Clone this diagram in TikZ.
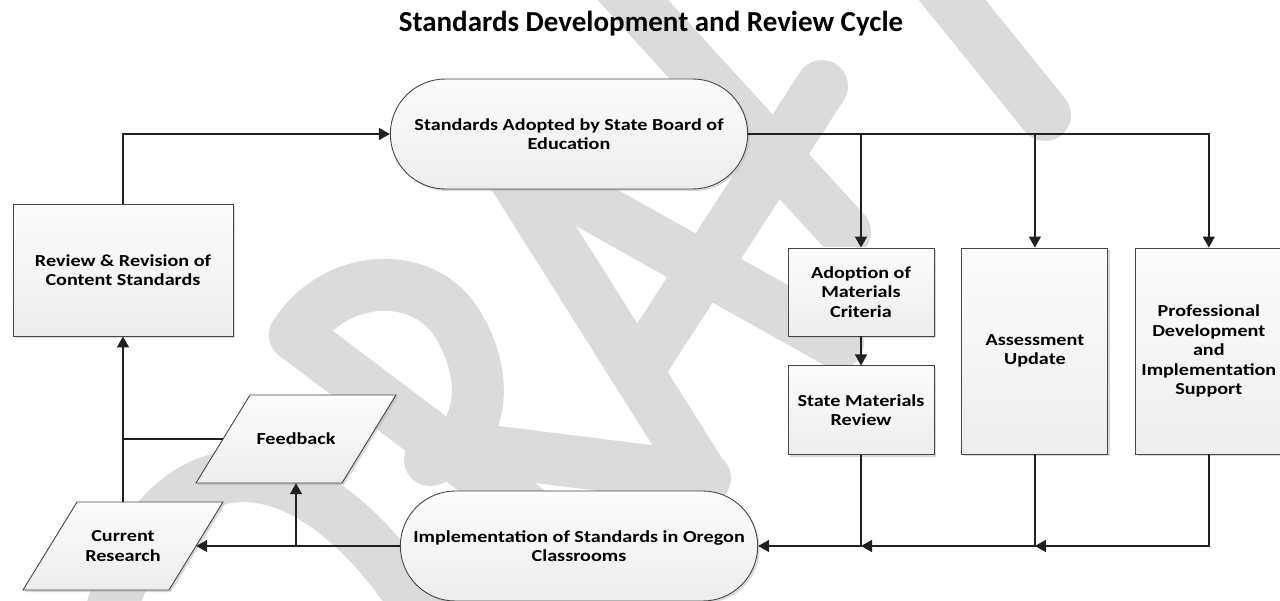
\documentclass[tikz,border=0pt]{standalone}
\usepackage{fontspec}
\setmainfont{Carlito}
\newfontfamily\flowfont{Carlito}[FakeStretch=1.2]
\usetikzlibrary{positioning}
\usetikzlibrary{shapes.misc,shadows}
\usetikzlibrary{arrows.meta}

\begin{document}
\begin{tikzpicture}[x=1pt,y=-1pt,
    every node/.style={font=\flowfont\bfseries\fontsize{16.8}{19.5}\selectfont,align=center},
    shade box/.style={draw=gray!55!black,line width=.9pt,top color=gray!2,bottom color=gray!14,
      drop shadow={shadow xshift=2pt,shadow yshift=-2pt,fill=black!30,opacity=.5}},
    procbox/.style={shade box,rectangle,minimum width=146pt},
    termbox/.style={shade box,rounded rectangle,minimum width=364pt,minimum height=110pt},
    databox/.style={rectangle,minimum width=146pt,minimum height=88pt},
    wmstroke/.style={draw=black!14,line width=52pt,line cap=round,line join=round},
    flow/.style={draw=gray!25!black,line width=1.5pt,-{Triangle[length=11pt,width=12pt]}},
    linkline/.style={draw=gray!25!black,line width=1.5pt}]
				\path[use as bounding box] (0,0) rectangle (1280,601);
				% watermark
				\begin{scope}
					\clip (0,0) rectangle (1280,601);
					\draw[wmstroke] (100,660) .. controls (140,430) and (310,400) .. (450,660);
					\draw[wmstroke] (295,335) -- (660,610);
					\draw[wmstroke] (295,335) .. controls (335,272) and (425,268) .. (458,325) .. controls (492,380) and (482,445) .. (430,460);
					\draw[wmstroke] (465,448) -- (705,478);
					\draw[wmstroke] (513,175) -- (700,472);
					\draw[wmstroke] (538,175) -- (838,343);
					\draw[wmstroke] (638,370) -- (822,86);
					\draw[wmstroke] (610,-25) -- (845,232);
					\draw[wmstroke] (932,-25) -- (1045,115);
				\end{scope}
				\node[anchor=base,font=\bfseries\fontsize{29}{34}\selectfont] (title) at (651,32) {Standards Development and Review Cycle};

				\node[termbox] (adopted) at (569,134) {Standards Adopted by State Board of\\Education};
				\node[procbox,minimum width=220pt,minimum height=132pt] (revision) at (123,270) {Review \& Revision of\\Content Standards};
				\node[procbox,minimum height=88pt] (criteria) at (861,292) {Adoption of\\Materials\\Criteria};
				\node[procbox,minimum height=89pt,below=29pt of criteria] (matreview) {State Materials\\Review};
				\node[procbox,minimum height=206pt,below right=0pt and 27pt of criteria.north east] (assess) {Assessment\\Update};
				\node[procbox,minimum height=206pt,below right=0pt and 27pt of assess.north east] (profdev) {Professional\\Development\\and\\Implementation\\Support};
				\node[termbox] (implement) at (579,546) {Implementation of Standards in Oregon\\Classrooms};
				% slanted data shapes
				\path[shade box,shift={(296,439)}] (-100,44) -- (46,44) -- (100,-44) -- (-46,-44) -- cycle;
				\node[databox] (feedback) at (296,439) {Feedback};
				\path[shade box,shift={(123,546)}] (-100,44) -- (46,44) -- (100,-44) -- (-46,-44) -- cycle;
				\node[databox] (research) at (123,546) {Current\\Research};

				\draw[flow] (revision.north) |- (adopted.west);
				\draw[flow] (adopted.east) -| (profdev.north);
				\draw[flow] (adopted.east -| criteria.north) -- (criteria.north);
				\draw[flow] (adopted.east -| assess.north) -- (assess.north);
				\draw[flow] (criteria) -- (matreview);
				\draw[flow] (profdev.south) |- (assess.south |- implement.east);
				\draw[flow] (assess.south) |- (matreview.south |- implement.east);
				\draw[flow] (matreview.south) |- (implement.east);
				\draw[flow] (implement.west) -- (research.east);
				\draw[flow] (implement.west -| feedback.south) -- (feedback.south);
				\draw[flow] (research.north) -- (revision.south);
				\draw[linkline] (feedback.west) -- (feedback.west -| revision.south);
			\end{tikzpicture}
\end{document}
